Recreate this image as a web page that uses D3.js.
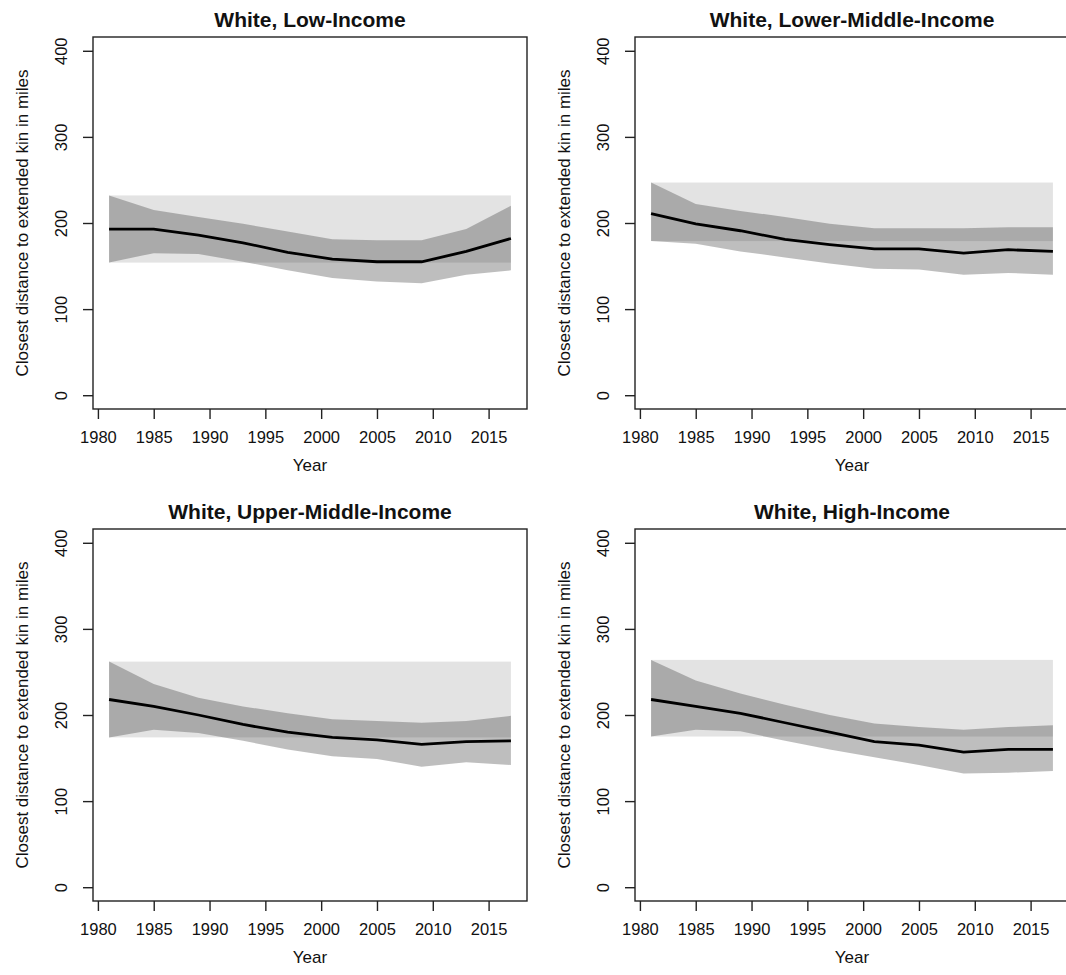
<!DOCTYPE html>
<html>
<head>
<meta charset="utf-8">
<script src="https://cdn.jsdelivr.net/npm/d3@7"></script>
<style>
  html, body { margin: 0; padding: 0; background: #fff; overflow: hidden; }
  svg { display: block; }
  text { font-family: "Liberation Sans", Arial, sans-serif; fill: #111; }
</style>
</head>
<body>
<div id="chart"></div>
<script>
const width = 1066;
const height = 975;

const years = [1981, 1985, 1989, 1993, 1997, 2001, 2005, 2009, 2013, 2017];
const xTicks = [1980, 1985, 1990, 1995, 2000, 2005, 2010, 2015];
const yTicks = [0, 100, 200, 300, 400];

const titles = [
    "White, Low-Income",
    "White, Lower-Middle-Income",
    "White, Upper-Middle-Income",
    "White, High-Income"
];

const lowUpper = [232, 215, 207, 199, 190, 181, 180, 180, 193, 220];
const lowMean  = [193, 193, 186, 177, 166, 158, 155, 155, 167, 182];
const lowLower = [154, 165, 164, 155, 145, 136, 132, 130, 140, 145];

const lowerMidUpper = [247, 222, 214, 207, 199, 194, 194, 194, 195, 195];
const lowerMidMean  = [211, 199, 191, 181, 175, 170, 170, 165, 169, 167];
const lowerMidLower = [179, 176, 167, 160, 153, 147, 146, 140, 142, 140];

const upperMidUpper = [262, 236, 220, 210, 202, 195, 193, 191, 193, 199];
const upperMidMean  = [218, 210, 200, 189, 180, 174, 171, 166, 169, 170];
const upperMidLower = [174, 183, 179, 170, 160, 152, 149, 140, 145, 142];

const highUpper = [264, 240, 225, 212, 200, 190, 186, 183, 186, 188];
const highMean  = [218, 210, 202, 191, 180, 169, 165, 157, 160, 160];
const highLower = [175, 183, 181, 170, 160, 151, 142, 132, 133, 135];

const series = [
    { upper: lowUpper, mean: lowMean, lower: lowLower },
    { upper: lowerMidUpper, mean: lowerMidMean, lower: lowerMidLower },
    { upper: upperMidUpper, mean: upperMidMean, lower: upperMidLower },
    { upper: highUpper, mean: highMean, lower: highLower }
];

// plot box geometry (R base graphics style, 4% axis padding)
const boxW = 434;
const boxH = 372;
const colX = [93, 635];
const rowY = [37, 529];

const svg = d3.select("#chart")
    .append("svg")
    .attr("width", width)
    .attr("height", height);

const x = d3.scaleLinear().domain([1979.56, 2018.44]).range([0, boxW]);
const y = d3.scaleLinear().domain([-16, 416]).range([boxH, 0]);

series.forEach((s, i) => {
    const g = svg.append("g")
        .attr("transform", `translate(${colX[i % 2]},${rowY[Math.floor(i / 2)]})`);

    const rows = years.map((yr, j) => ({
        year: yr, upper: s.upper[j], mean: s.mean[j], lower: s.lower[j]
    }));

    // reference band: first-year interval held constant
    g.append("rect")
        .attr("x", x(years[0]))
        .attr("width", x(years[years.length - 1]) - x(years[0]))
        .attr("y", y(s.upper[0]))
        .attr("height", y(s.lower[0]) - y(s.upper[0]))
        .attr("fill", "#e3e3e3");

    const area = d3.area()
        .x(d => x(d.year))
        .y0(d => y(d.lower))
        .y1(d => y(d.upper));

    g.append("path")
        .datum(rows)
        .attr("d", area)
        .attr("fill", "rgb(40,40,40)")
        .attr("fill-opacity", 0.3);

    const line = d3.line()
        .x(d => x(d.year))
        .y(d => y(d.mean));

    g.append("path")
        .datum(rows)
        .attr("d", line)
        .attr("fill", "none")
        .attr("stroke", "#000")
        .attr("stroke-width", 2.8);

    // box
    g.append("rect")
        .attr("width", boxW)
        .attr("height", boxH)
        .attr("fill", "none")
        .attr("stroke", "#222")
        .attr("stroke-width", 1.4);

    // x axis
    const xAxis = g.append("g")
        .attr("transform", `translate(0,${boxH})`)
        .call(d3.axisBottom(x)
            .tickValues(xTicks)
            .tickSize(10)
            .tickPadding(12)
            .tickFormat(d3.format("d")));
    xAxis.select(".domain").remove();
    xAxis.selectAll("line").attr("stroke", "#222").attr("stroke-width", 1.4);
    xAxis.selectAll("text")
        .style("font-size", "16.5px")
        .attr("fill", "#111");

    // y axis (labels parallel to axis)
    const yAxis = g.append("g")
        .call(d3.axisLeft(y)
            .tickValues(yTicks)
            .tickSize(10)
            .tickFormat(d3.format("d")));
    yAxis.select(".domain").remove();
    yAxis.selectAll("line").attr("stroke", "#222").attr("stroke-width", 1.4);
    yAxis.selectAll("text")
        .attr("x", null)
        .attr("dy", null)
        .attr("transform", "translate(-26,0) rotate(-90)")
        .attr("text-anchor", "middle")
        .style("font-size", "16.5px")
        .attr("fill", "#111");

    g.append("text")
        .attr("x", boxW / 2)
        .attr("y", -10)
        .attr("text-anchor", "middle")
        .style("font-size", "21px")
        .style("font-weight", 700)
        .text(titles[i]);

    g.append("text")
        .attr("x", boxW / 2)
        .attr("y", boxH + 62)
        .attr("text-anchor", "middle")
        .style("font-size", "17px")
        .text("Year");

    g.append("text")
        .attr("transform", `translate(-65,${boxH / 2}) rotate(-90)`)
        .attr("text-anchor", "middle")
        .style("font-size", "17px")
        .text("Closest distance to extended kin in miles");
});
</script>
</body>
</html>
